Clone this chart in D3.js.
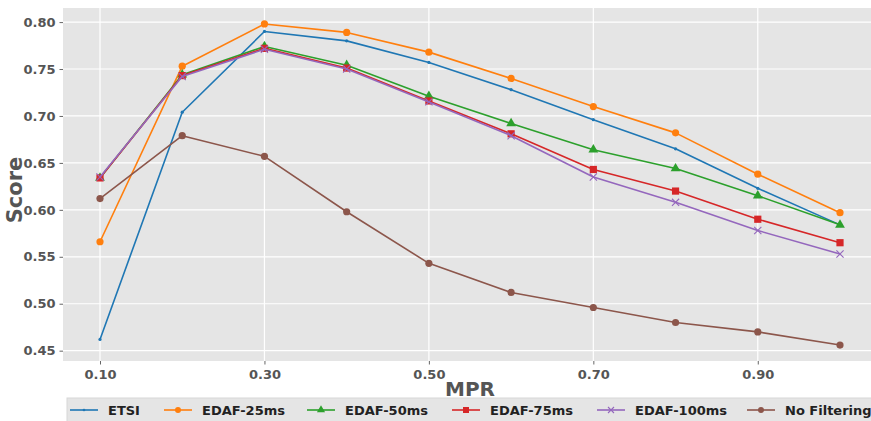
<!DOCTYPE html>
<html>
<head>
<meta charset="utf-8">
<script src="https://cdn.jsdelivr.net/npm/d3@7"></script>
<style>
  html, body { margin: 0; padding: 0; background: #fff; }
  svg { display: block; font-family: "DejaVu Sans", sans-serif; }
</style>
</head>
<body>
<svg id="chart" width="871" height="421"></svg>
<script>
// MPR sweep, one score series per filtering configuration
const mpr = [0.1, 0.2, 0.3, 0.4, 0.5, 0.6, 0.7, 0.8, 0.9, 1.0];
const etsi        = [0.462, 0.704, 0.790, 0.780, 0.757, 0.728, 0.696, 0.665, 0.623, 0.584];
const edaf25      = [0.566, 0.753, 0.798, 0.789, 0.768, 0.740, 0.710, 0.682, 0.638, 0.597];
const edaf50      = [0.634, 0.744, 0.774, 0.754, 0.721, 0.692, 0.664, 0.644, 0.615, 0.584];
const edaf75      = [0.634, 0.743, 0.772, 0.751, 0.716, 0.681, 0.643, 0.620, 0.590, 0.565];
const edaf100     = [0.635, 0.742, 0.771, 0.750, 0.715, 0.679, 0.635, 0.608, 0.578, 0.553];
const noFiltering = [0.612, 0.679, 0.657, 0.598, 0.543, 0.512, 0.496, 0.480, 0.470, 0.456];

const seriesNames = ["ETSI", "EDAF-25ms", "EDAF-50ms", "EDAF-75ms", "EDAF-100ms", "No Filtering"];
const seriesValues = [etsi, edaf25, edaf50, edaf75, edaf100, noFiltering];
const seriesColors = ["#1f77b4", "#ff7f0e", "#2ca02c", "#d62728", "#9467bd", "#8c564b"];
const seriesMarkers = ["point", "circle", "triangle", "square", "x", "circle"];

const xTicks = [0.1, 0.3, 0.5, 0.7, 0.9];
const yTicks = [0.45, 0.50, 0.55, 0.60, 0.65, 0.70, 0.75, 0.80];

const svg = d3.select("#chart");
const plot = { left: 63, right: 877, top: 8, bottom: 361 };
const textColor = "#555555";

const x = d3.scaleLinear().domain([0.055, 1.045]).range([plot.left, plot.right]);
const y = d3.scaleLinear().domain([0.439, 0.815]).range([plot.bottom, plot.top]);

// panel background
svg.append("rect")
  .attr("x", plot.left).attr("y", plot.top)
  .attr("width", plot.right - plot.left).attr("height", plot.bottom - plot.top)
  .attr("fill", "#e5e5e5");

svg.append("defs").append("clipPath").attr("id", "panel")
  .append("rect")
  .attr("x", plot.left).attr("y", plot.top)
  .attr("width", plot.right - plot.left).attr("height", plot.bottom - plot.top);

// grid lines
const grid = svg.append("g");
grid.selectAll("line.h").data(yTicks).join("line")
  .attr("x1", plot.left).attr("x2", plot.right)
  .attr("y1", d => y(d)).attr("y2", d => y(d))
  .attr("stroke", "#ffffff").attr("stroke-width", 1.2);
grid.selectAll("line.v").data(xTicks).join("line")
  .attr("y1", plot.top).attr("y2", plot.bottom)
  .attr("x1", d => x(d)).attr("x2", d => x(d))
  .attr("stroke", "#ffffff").attr("stroke-width", 1.2);

// axes
const xAxis = d3.axisBottom(x).tickValues(xTicks).tickFormat(d3.format(".2f"))
  .tickSize(3.5).tickPadding(5);
const yAxis = d3.axisLeft(y).tickValues(yTicks).tickFormat(d3.format(".2f"))
  .tickSize(3.5).tickPadding(4);

const gx = svg.append("g").attr("transform", `translate(0,${plot.bottom})`).call(xAxis);
const gy = svg.append("g").attr("transform", `translate(${plot.left},0)`).call(yAxis);
[gx, gy].forEach(g => {
  g.select(".domain").remove();
  g.selectAll(".tick line").attr("stroke", textColor).attr("stroke-width", 0.9);
  g.selectAll(".tick text")
    .attr("fill", textColor)
    .attr("font-size", 13)
    .attr("font-weight", "bold")
    .attr("font-family", "DejaVu Sans, sans-serif");
});

// axis titles
svg.append("text")
  .attr("x", 470).attr("y", 396)
  .attr("text-anchor", "middle")
  .attr("font-size", 20).attr("font-weight", "bold")
  .attr("fill", textColor)
  .text("MPR");
svg.append("text")
  .attr("transform", "translate(22,190) rotate(-90)")
  .attr("text-anchor", "middle")
  .attr("font-size", 21).attr("font-weight", "bold")
  .attr("fill", textColor)
  .text("Score");

// marker drawing
function drawMarker(g, kind, color, size) {
  if (kind === "point") {
    g.append("circle").attr("r", size * 0.45).attr("fill", color);
  } else if (kind === "circle") {
    g.append("circle").attr("r", size).attr("fill", color);
  } else if (kind === "square") {
    g.append("rect").attr("x", -size).attr("y", -size)
      .attr("width", 2 * size).attr("height", 2 * size).attr("fill", color);
  } else if (kind === "triangle") {
    g.append("path").attr("d", d3.symbol(d3.symbolTriangle, size * size * 3.2)()).attr("fill", color);
  } else if (kind === "x") {
    const s = size;
    g.append("path").attr("d", `M${-s},${-s}L${s},${s}M${-s},${s}L${s},${-s}`)
      .attr("stroke", color).attr("stroke-width", 1.1).attr("fill", "none");
  }
}

// series lines and markers
const series = svg.append("g").attr("clip-path", "url(#panel)");
const line = d3.line().x((d, i) => x(mpr[i])).y(d => y(d));
seriesValues.forEach((vals, k) => {
  const g = series.append("g");
  g.append("path").datum(vals)
    .attr("d", line)
    .attr("fill", "none")
    .attr("stroke", seriesColors[k])
    .attr("stroke-width", 1.6)
    .attr("stroke-linejoin", "round");
  vals.forEach((v, i) => {
    const m = g.append("g").attr("transform", `translate(${x(mpr[i])},${y(v)})`);
    drawMarker(m, seriesMarkers[k], seriesColors[k], 3.6);
  });
});

// legend strip below the chart
const legend = svg.append("g");
legend.append("rect")
  .attr("x", 67).attr("y", 398).attr("width", 810).attr("height", 30)
  .attr("fill", "#e5e5e5").attr("stroke", "#d8d8d8");
const legendX = [70, 164, 307, 452, 597, 747];
seriesNames.forEach((name, k) => {
  const g = legend.append("g").attr("transform", `translate(${legendX[k]},410)`);
  g.append("line").attr("x1", 0).attr("x2", 28)
    .attr("stroke", seriesColors[k]).attr("stroke-width", 1.6);
  const m = g.append("g").attr("transform", "translate(14,0)");
  drawMarker(m, seriesMarkers[k], seriesColors[k], 3.0);
  g.append("text")
    .attr("x", 38).attr("y", 5)
    .attr("font-size", 13).attr("font-weight", "bold")
    .attr("fill", "#222222")
    .text(name);
});
</script>
</body>
</html>
